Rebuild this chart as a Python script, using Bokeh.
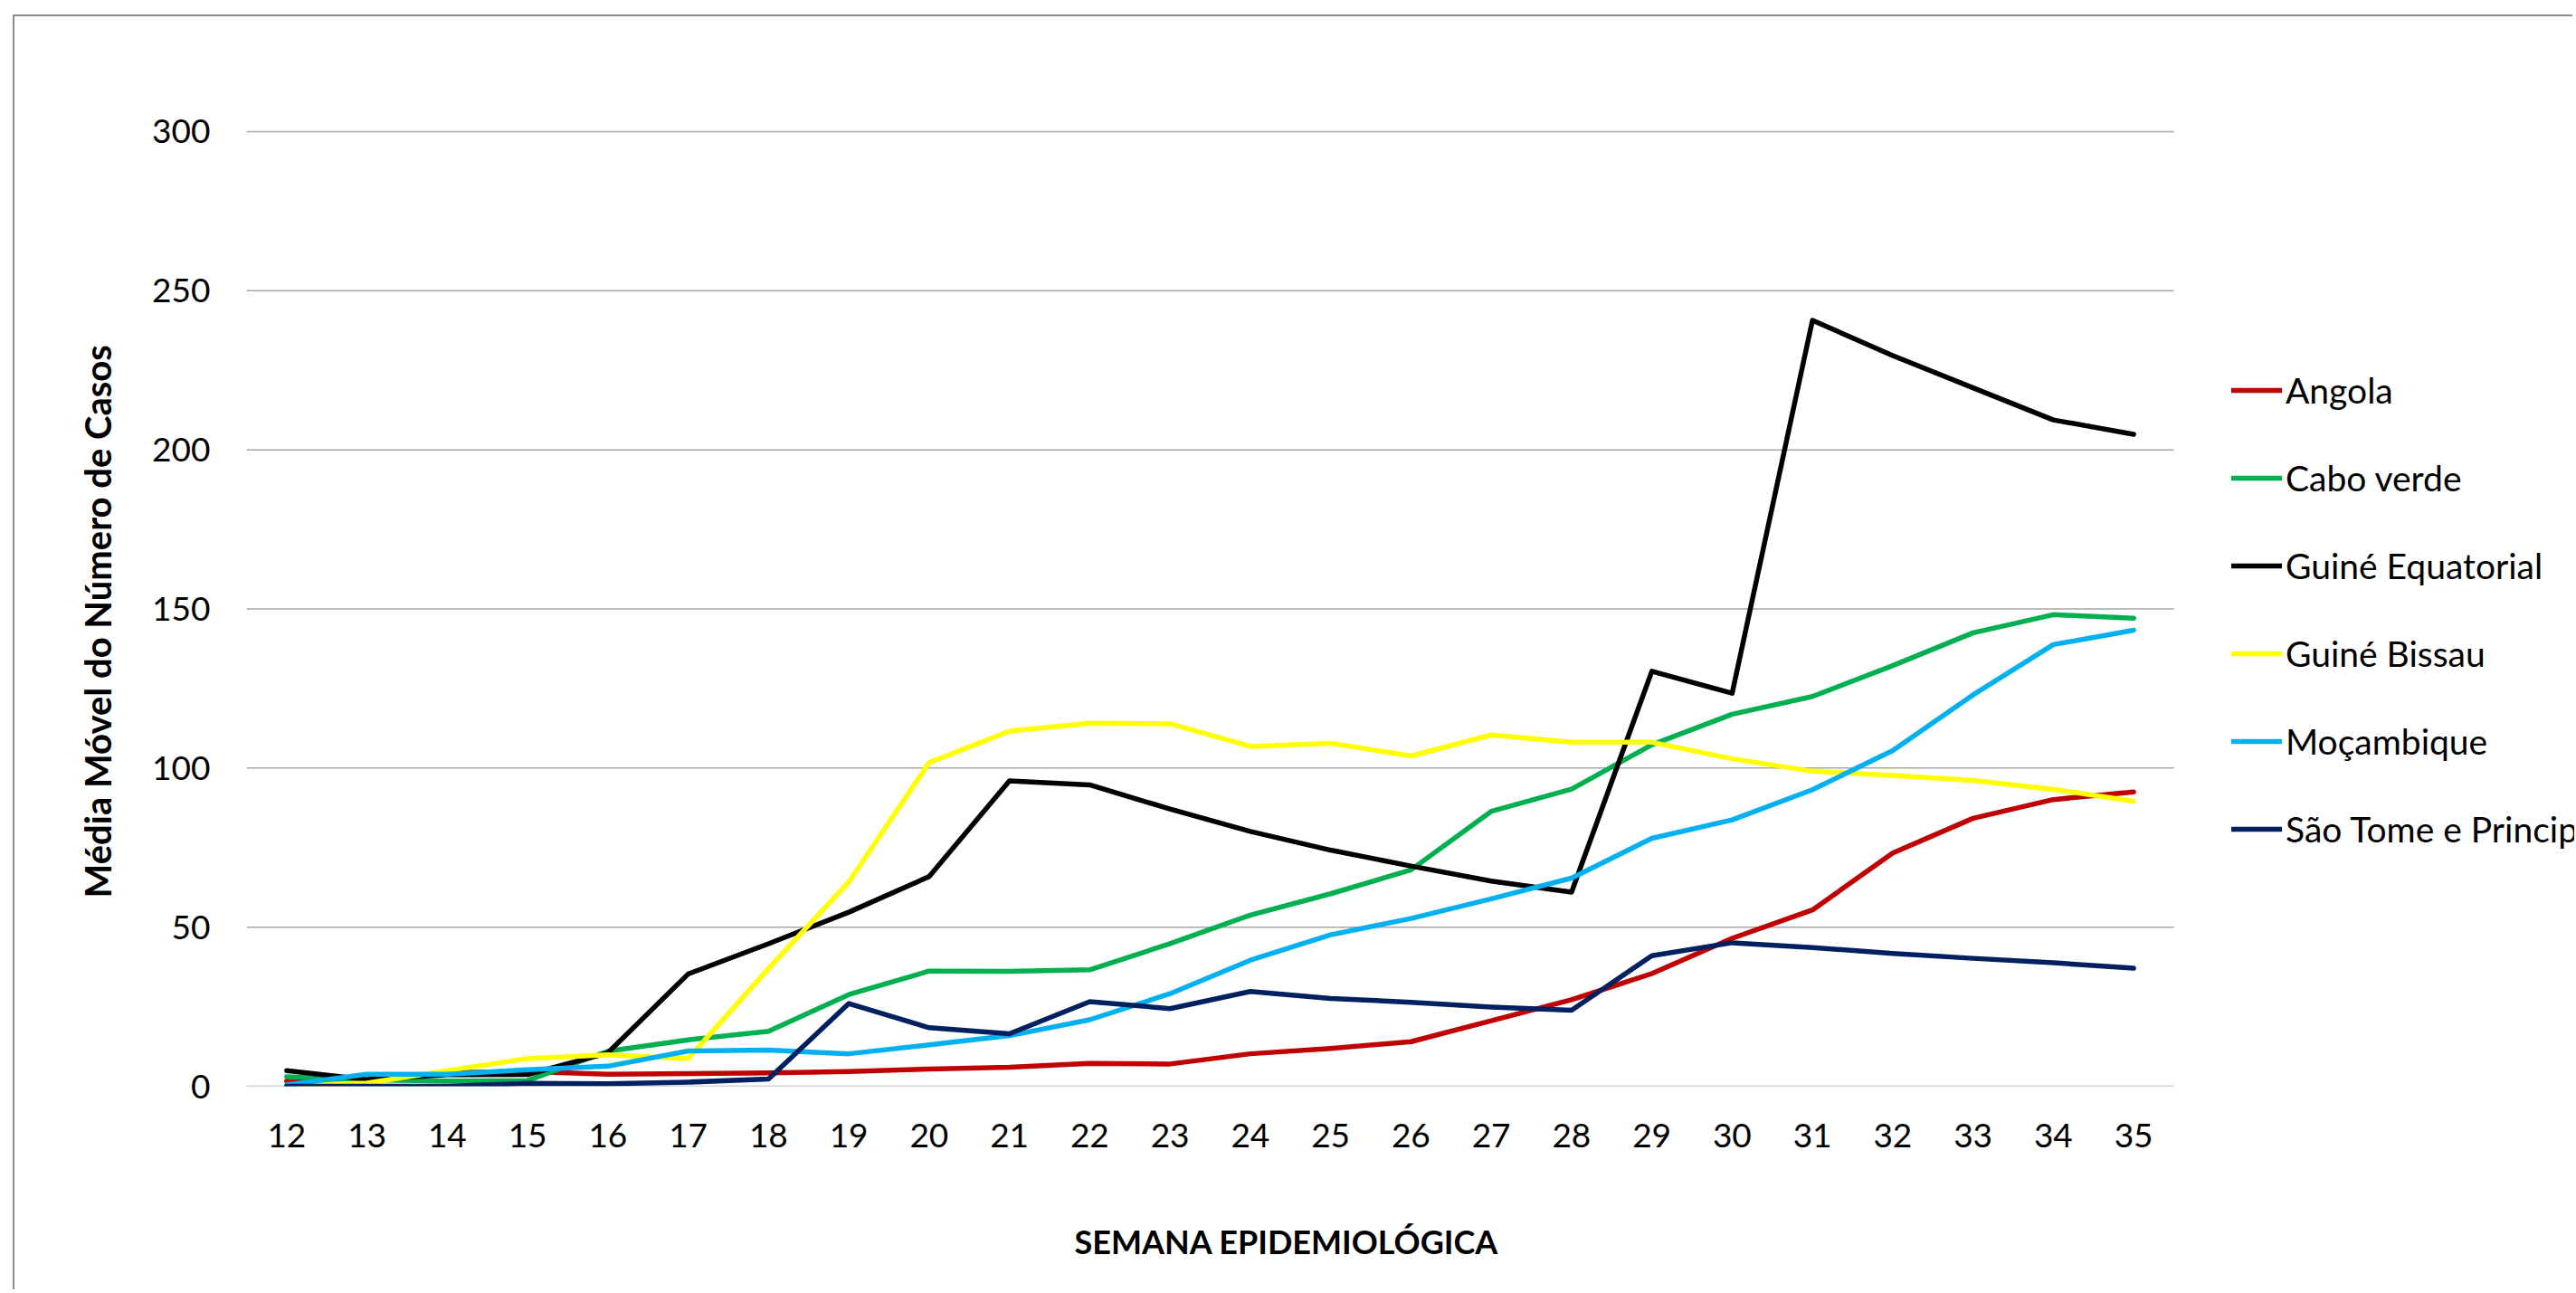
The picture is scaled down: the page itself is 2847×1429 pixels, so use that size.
from bokeh.plotting import figure
from bokeh.models import Range1d, FixedTicker, Legend, LegendItem, Title
from bokeh.embed import file_html
from bokeh.resources import INLINE

# ---- data ----
weeks = list(range(12, 36))
week_labels = [str(w) for w in weeks]
y_ticks = [0, 50, 100, 150, 200, 250, 300]

angola = [1.6, 1.6, 4.3, 4.6, 3.8, 4.0, 4.2, 4.6, 5.4, 6.0, 7.2, 7.0,
          10.2, 11.9, 14.0, 20.6, 27.2, 35.4, 46.5, 55.4, 73.3, 84.2, 90.1, 92.5]
cabo_verde = [3.0, 2.0, 1.6, 1.8, 11.0, 14.6, 17.3, 28.8, 36.2, 36.1, 36.6, 44.8,
              53.8, 60.5, 68.0, 86.4, 93.4, 107.3, 116.9, 122.5, 132.2, 142.5, 148.2, 147.1]
guine_equatorial = [4.9, 2.1, 3.6, 3.7, 10.5, 35.3, 44.8, 54.7, 65.9, 96.0, 94.7, 87.1,
                    80.1, 74.2, 69.2, 64.5, 61.0, 130.4, 123.5, 240.7, 229.6, 219.5, 209.4, 204.9]
guine_bissau = [0.3, 1.0, 4.9, 8.7, 9.9, 8.7, 37.0, 64.2, 101.7, 111.6, 114.1, 113.9,
                106.8, 107.8, 103.8, 110.4, 108.1, 108.1, 102.9, 99.0, 97.7, 96.1, 93.3, 89.6]
mocambique = [0.4, 3.8, 3.8, 5.2, 6.3, 11.1, 11.4, 10.2, 13.0, 15.9, 20.9, 29.1,
              39.6, 47.6, 52.7, 58.9, 65.4, 77.9, 83.7, 93.2, 105.5, 123.0, 138.8, 143.3]
sao_tome = [0.0, 0.0, 0.0, 0.9, 0.8, 1.3, 2.3, 26.0, 18.4, 16.5, 26.6, 24.4,
            29.8, 27.6, 26.4, 24.9, 23.9, 41.0, 45.1, 43.6, 41.7, 40.2, 38.8, 37.1]

series_names = ["Angola", "Cabo verde", "Guiné Equatorial", "Guiné Bissau",
                "Moçambique", "São Tome e Principe"]
series_values = [angola, cabo_verde, guine_equatorial, guine_bissau, mocambique, sao_tome]
series_colors = ["#C00000", "#00B050", "#000000", "#FFFF00", "#00B0F0", "#002060"]

x_title = "SEMANA EPIDEMIOLÓGICA"
y_title = "Média Móvel do Número de Casos"

# category axis spans half a step beyond first/last week
x_lo = weeks[0] - 0.5
x_hi = weeks[-1] + 0.5

# ---- figure ----
W, H = 2829, 1409
frame_left = 256
px_per_week = 2130 / (x_hi - x_lo)
x_view_end = x_lo + (W - frame_left) / px_per_week   # frame extends under the legend

p = figure(width=W, height=H, output_backend="svg", toolbar_location=None,
           x_range=Range1d(x_lo, x_view_end), y_range=Range1d(0, 301.42),
           min_border_left=frame_left, min_border_right=0,
           min_border_top=122, min_border_bottom=227)
p.styles = {"margin-left": "14px", "margin-top": "16px",
            "border-left": "2px solid #8C8C8C", "border-top": "2px solid #8C8C8C"}
p.background_fill_color = "white"
p.border_fill_color = "white"
p.outline_line_color = None

p.xgrid.grid_line_color = None
p.ygrid.grid_line_color = None

# horizontal gridlines only across the category span
p.segment(x0=[x_lo] * len(y_ticks), x1=[x_hi] * len(y_ticks), y0=y_ticks, y1=y_ticks,
          line_color="#A6A6A6", line_width=1.5)

p.xaxis.ticker = FixedTicker(ticks=weeks)
p.xaxis.major_label_overrides = {w: lab for w, lab in zip(weeks, week_labels)}
p.yaxis.ticker = FixedTicker(ticks=y_ticks)

for ax in (p.xaxis[0], p.yaxis[0]):
    ax.axis_line_color = None
    ax.major_tick_line_color = None
    ax.minor_tick_line_color = None
    ax.major_tick_out = 0
    ax.major_tick_in = 0
    ax.major_label_text_font = "Lato"
    ax.major_label_text_font_size = "37px"
    ax.major_label_text_color = "black"

p.yaxis.major_label_standoff = 40
p.xaxis.major_label_standoff = 41
# blank spacer label pushes the title further down
p.xaxis.axis_label = " "
p.xaxis.axis_label_text_font_size = "10px"
p.xaxis.axis_label_standoff = 55

renderers = []
for name, vals, col in zip(series_names, series_values, series_colors):
    r = p.line(weeks, vals, line_color=col, line_width=5.5,
               line_join="round", line_cap="round")
    renderers.append((name, r))

legend = Legend(items=[LegendItem(label=n, renderers=[r]) for n, r in renderers],
                location=(2194, 254), orientation="vertical",
                glyph_width=56, glyph_height=60, spacing=37, padding=0, margin=0,
                label_standoff=4, border_line_color=None, background_fill_alpha=0,
                label_text_font="Lato", label_text_font_size="39px",
                label_text_color="black")
p.add_layout(legend)

tx = Title(text=x_title, align="left", offset=915, text_font="Lato",
           text_font_style="bold", text_font_size="36px", text_color="black",
           vertical_align="top", standoff=20)
p.add_layout(tx, "below")

ty = Title(text=y_title, align="left", offset=208, text_font="Lato",
           text_font_style="bold", text_font_size="40px", text_color="black",
           vertical_align="bottom", standoff=68)
p.add_layout(ty, "left")

open("out.html", "w").write(file_html(p, INLINE))
